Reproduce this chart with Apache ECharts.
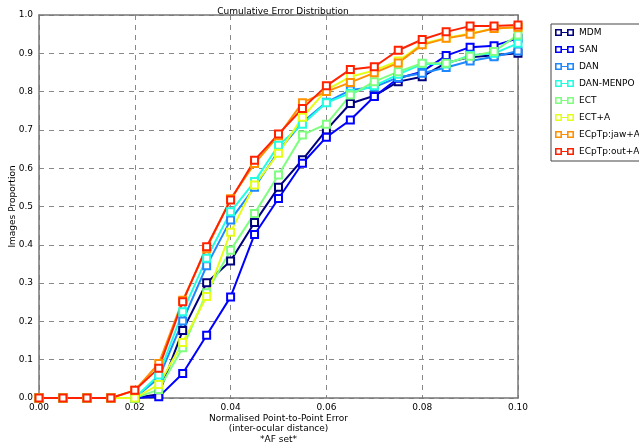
<!DOCTYPE html>
<html>
<head>
<meta charset="utf-8">
<script src="https://cdn.jsdelivr.net/npm/echarts@6/dist/echarts.min.js"></script>
<style>
  html, body { margin: 0; padding: 0; background: #fff; }
  #chart { width: 639px; height: 444px; }
</style>
</head>
<body>
<div id="chart"></div>
<script>
const errors = [0, 0.005, 0.01, 0.015, 0.02, 0.025, 0.03, 0.035, 0.04, 0.045, 0.05,
  0.055, 0.06, 0.065, 0.07, 0.075, 0.08, 0.085, 0.09, 0.095, 0.1]

const names = ['MDM', 'SAN', 'DAN', 'DAN-MENPO', 'ECT', 'ECT+A', 'ECpTp:jaw+A', 'ECpTp:out+A']
const colors = ['#00007f', '#0000ff', '#1e88ff', '#22ffe0', '#7fff7f', '#e5ff19', '#ff9000', '#ff2200']

const mdm = [0, 0, 0, 0, 0, 0.01, 0.176, 0.301, 0.358, 0.458, 0.55, 0.622, 0.70, 0.769, 0.789, 0.826, 0.839, 0.875, 0.89, 0.895, 0.90]
const san = [0, 0, 0, 0, 0, 0.003, 0.064, 0.164, 0.264, 0.427, 0.521, 0.613, 0.681, 0.726, 0.787, 0.835, 0.852, 0.894, 0.916, 0.92, 0.939]
const dan = [0, 0, 0, 0, 0, 0.052, 0.201, 0.345, 0.465, 0.55, 0.645, 0.72, 0.772, 0.804, 0.812, 0.837, 0.848, 0.863, 0.88, 0.891, 0.906]
const danMenpo = [0, 0, 0, 0, 0, 0.06, 0.225, 0.365, 0.486, 0.565, 0.66, 0.715, 0.771, 0.796, 0.815, 0.845, 0.872, 0.872, 0.895, 0.90, 0.926]
const ect = [0, 0, 0, 0, 0, 0.022, 0.131, 0.275, 0.386, 0.482, 0.582, 0.687, 0.715, 0.791, 0.826, 0.852, 0.874, 0.874, 0.892, 0.905, 0.948]
const ectA = [0, 0, 0, 0, 0, 0.035, 0.145, 0.265, 0.433, 0.556, 0.639, 0.733, 0.804, 0.839, 0.855, 0.88, 0.925, 0.94, 0.952, 0.965, 0.968]
const jawA = [0, 0, 0, 0, 0.02, 0.09, 0.255, 0.39, 0.52, 0.612, 0.685, 0.771, 0.80, 0.824, 0.849, 0.875, 0.922, 0.939, 0.95, 0.965, 0.968]
const outA = [0, 0, 0, 0, 0.02, 0.078, 0.251, 0.395, 0.517, 0.621, 0.689, 0.756, 0.815, 0.858, 0.865, 0.908, 0.936, 0.956, 0.971, 0.971, 0.974]

const values = [mdm, san, dan, danMenpo, ect, ectA, jawA, outA]

// two hollow squares joined by a line, for the legend
const legendIcon = 'path://M0,0 L7,0 L7,3 L12,3 L12,0 L19,0 L19,7 L12,7 L12,4 L7,4 L7,7 L0,7 Z' +
  ' M1.6,1.6 L1.6,5.4 L5.4,5.4 L5.4,1.6 Z M13.6,1.6 L13.6,5.4 L17.4,5.4 L17.4,1.6 Z'

const font = 'DejaVu Sans'
const chart = echarts.init(document.getElementById('chart'))

const series = names.map((name, i) => ({
  name: name,
  type: 'line',
  data: errors.map((x, j) => [x, values[i][j]]),
  symbol: 'emptyRect',
  symbolSize: 7,
  showSymbol: true,
  lineStyle: { color: colors[i], width: 2 },
  itemStyle: { color: colors[i], borderWidth: 2 },
  emphasis: { disabled: true },
  animation: false
}))

const frameLine = { show: true, onZero: false, lineStyle: { color: '#777', width: 1.5 } }
const gridLine = { show: true, lineStyle: { color: '#888', type: [5, 5], width: 1 } }

const option = {
  backgroundColor: '#fff',
  title: {
    text: 'Cumulative Error Distribution',
    left: 278,
    textAlign: 'center',
    top: 2,
    textStyle: { fontFamily: font, fontSize: 9, fontWeight: 'normal', color: '#000' }
  },
  grid: { left: 39, right: 121, top: 15, bottom: 46, containLabel: false, outerBoundsMode: 'none' },
  legend: {
    orient: 'vertical',
    left: 551,
    top: 24,
    icon: legendIcon,
    itemWidth: 19,
    itemHeight: 7,
    itemGap: 8,
    padding: [4, 40, 5, 4],
    borderColor: '#444',
    borderWidth: 1,
    backgroundColor: '#fff',
    itemStyle: { borderWidth: 0 },
    textStyle: { fontFamily: font, fontSize: 9, color: '#000' },
    data: names
  },
  xAxis: [{
    type: 'value',
    min: 0,
    max: 0.1,
    interval: 0.02,
    name: 'Normalised Point-to-Point Error\n(inter-ocular distance)\n*AF set*',
    nameLocation: 'middle',
    nameGap: 15,
    nameMoveOverlap: false,
    nameTextStyle: { fontFamily: font, fontSize: 9, color: '#000', lineHeight: 10.5, verticalAlign: 'top', align: 'center' },
    axisLine: frameLine,
    axisTick: { show: false },
    axisLabel: { fontFamily: font, fontSize: 9, color: '#000', margin: 5, formatter: v => v.toFixed(2) },
    splitLine: gridLine
  }, {
    // top frame
    type: 'value', min: 0, max: 0.1, interval: 0.02, position: 'top',
    axisLine: frameLine, axisTick: { show: false }, axisLabel: { show: false }, splitLine: { show: false }
  }],
  yAxis: [{
    type: 'value',
    min: 0,
    max: 1,
    interval: 0.1,
    name: 'Images Proportion',
    nameLocation: 'middle',
    nameGap: 22,
    nameMoveOverlap: false,
    nameTextStyle: { fontFamily: font, fontSize: 9, color: '#000' },
    axisLine: frameLine,
    axisTick: { show: false },
    axisLabel: { fontFamily: font, fontSize: 9, color: '#000', margin: 6, formatter: v => v.toFixed(1) },
    splitLine: gridLine
  }, {
    // right frame
    type: 'value', min: 0, max: 1, interval: 0.1, position: 'right',
    axisLine: frameLine, axisTick: { show: false }, axisLabel: { show: false }, splitLine: { show: false }
  }],
  series: series
}

chart.setOption(option)
</script>
</body>
</html>
